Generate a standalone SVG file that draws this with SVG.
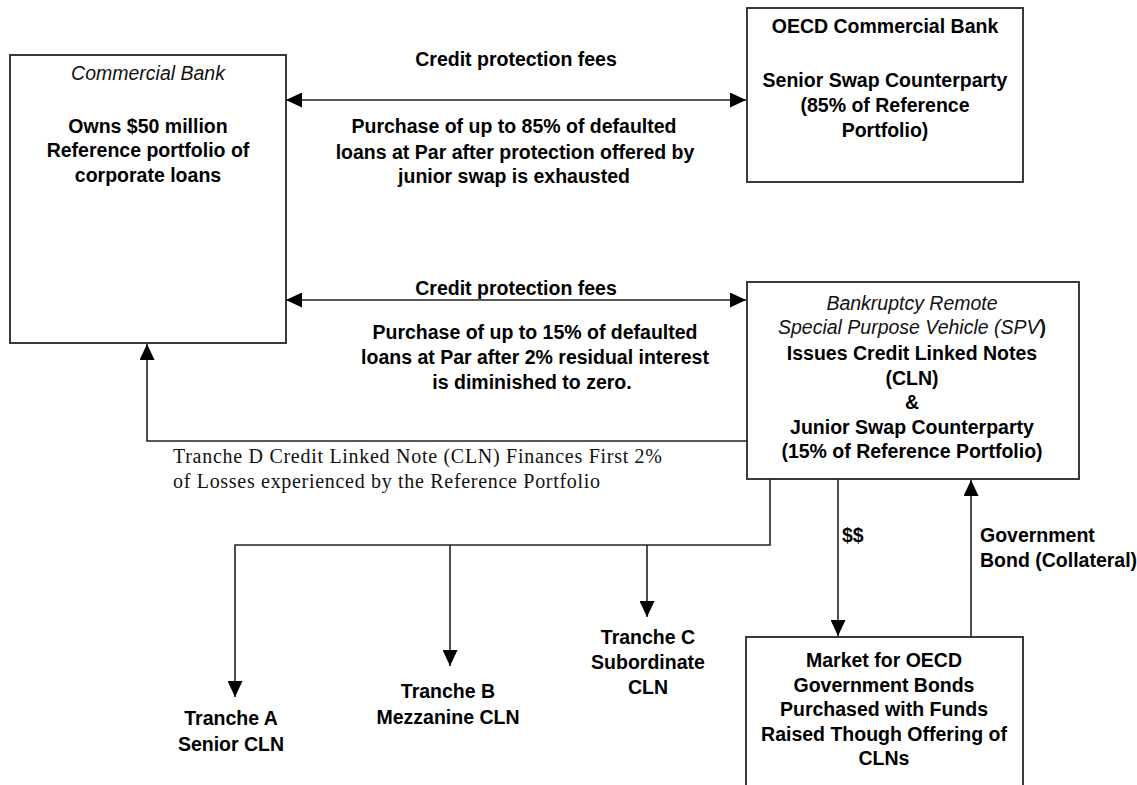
<svg xmlns="http://www.w3.org/2000/svg" width="1137" height="785" viewBox="0 0 1137 785">
<defs>
<marker id="ah" viewBox="0 0 16 15" refX="16" refY="7.5" markerWidth="16" markerHeight="15" markerUnits="userSpaceOnUse" orient="auto-start-reverse">
<path d="M0,0 L16,7.5 L0,15 Z" fill="#000"/>
</marker>
<style>
.box{fill:#fff;stroke:#3a3a3a;stroke-width:2}
.ln{fill:none;stroke:#222;stroke-width:1.6}
.b{font-family:"Liberation Sans",Arial,sans-serif;font-weight:bold;font-size:19.5px;fill:#000;text-anchor:middle}
.i{font-family:"Liberation Sans",Arial,sans-serif;font-style:italic;font-size:19.5px;fill:#111;text-anchor:middle}
.s{font-family:"Liberation Serif","Times New Roman",serif;font-size:20px;fill:#111}
.l{text-anchor:start}
</style>
</defs>
<rect width="1137" height="785" fill="#fff"/>
<g id="commercial-bank">
<rect class="box" x="10" y="55" width="276" height="288"/>
<text class="i" x="148" y="80">Commercial Bank</text>
<text class="b" x="148" y="133">Owns $50 million</text>
<text class="b" x="148" y="157">Reference portfolio of</text>
<text class="b" x="148" y="182">corporate loans</text>
</g>
<g id="oecd-bank">
<rect class="box" x="747" y="8" width="276" height="174"/>
<text class="b" x="885" y="33">OECD Commercial Bank</text>
<text class="b" x="885" y="87">Senior Swap Counterparty</text>
<text class="b" x="885" y="112">(85% of Reference</text>
<text class="b" x="885" y="137">Portfolio)</text>
</g>
<g id="spv">
<rect class="box" x="747" y="282" width="332" height="197"/>
<text class="i" x="912" y="310">Bankruptcy Remote</text>
<text class="i" x="912" y="334">Special Purpose Vehicle (SPV<tspan font-weight="bold" font-style="normal">)</tspan></text>
<text class="b" x="912" y="360">Issues Credit Linked Notes</text>
<text class="b" x="912" y="385">(CLN)</text>
<text class="b" x="912" y="409">&amp;</text>
<text class="b" x="912" y="434">Junior Swap Counterparty</text>
<text class="b" x="912" y="458">(15% of Reference Portfolio)</text>
</g>
<g id="market">
<rect class="box" x="746" y="637" width="277" height="160"/>
<text class="b" x="884" y="667">Market for OECD</text>
<text class="b" x="884" y="692">Government Bonds</text>
<text class="b" x="884" y="716">Purchased with Funds</text>
<text class="b" x="884" y="741">Raised Though Offering of</text>
<text class="b" x="884" y="765">CLNs</text>
</g>
<g id="tranche-a">
<text class="b" x="231" y="725">Tranche A</text>
<text class="b" x="231" y="751">Senior CLN</text>
</g>
<g id="tranche-b">
<text class="b" x="448" y="698">Tranche B</text>
<text class="b" x="448" y="724">Mezzanine CLN</text>
</g>
<g id="tranche-c">
<text class="b" x="648" y="644">Tranche C</text>
<text class="b" x="648" y="669">Subordinate</text>
<text class="b" x="648" y="694">CLN</text>
</g>
<g id="connectors">
<line class="ln" x1="286" y1="100" x2="746" y2="100" marker-start="url(#ah)" marker-end="url(#ah)"/>
<line class="ln" x1="286" y1="300" x2="746" y2="300" marker-start="url(#ah)" marker-end="url(#ah)"/>
<polyline class="ln" points="747,441 147,441 147,344" marker-end="url(#ah)"/>
<polyline class="ln" points="770,479 770,545 235,545 235,697" marker-end="url(#ah)"/>
<line class="ln" x1="450" y1="545" x2="450" y2="666" marker-end="url(#ah)"/>
<line class="ln" x1="647" y1="545" x2="647" y2="617" marker-end="url(#ah)"/>
<line class="ln" x1="838" y1="479" x2="838" y2="636" marker-end="url(#ah)"/>
<line class="ln" x1="971" y1="637" x2="971" y2="480" marker-end="url(#ah)"/>
</g>
<g id="labels">
<text class="b" x="516" y="66">Credit protection fees</text>
<text class="b" x="514" y="133">Purchase of up to 85% of defaulted</text>
<text class="b" x="515" y="159">loans at Par after protection offered by</text>
<text class="b" x="514" y="183">junior swap is exhausted</text>
<text class="b" x="516" y="295">Credit protection fees</text>
<text class="b" x="535" y="339">Purchase of up to 15% of defaulted</text>
<text class="b" x="535" y="364">loans at Par after 2% residual interest</text>
<text class="b" x="532" y="389">is diminished to zero.</text>
<text class="s" x="173" y="463" textLength="489" lengthAdjust="spacing">Tranche D Credit Linked Note (CLN) Finances First 2%</text>
<text class="s" x="173" y="488" textLength="427" lengthAdjust="spacing">of Losses experienced by the Reference Portfolio</text>
<text class="b l" x="842" y="542">$$</text>
<text class="b l" x="980" y="542">Government</text>
<text class="b l" x="980" y="567">Bond (Collateral)</text>
</g>
</svg>
